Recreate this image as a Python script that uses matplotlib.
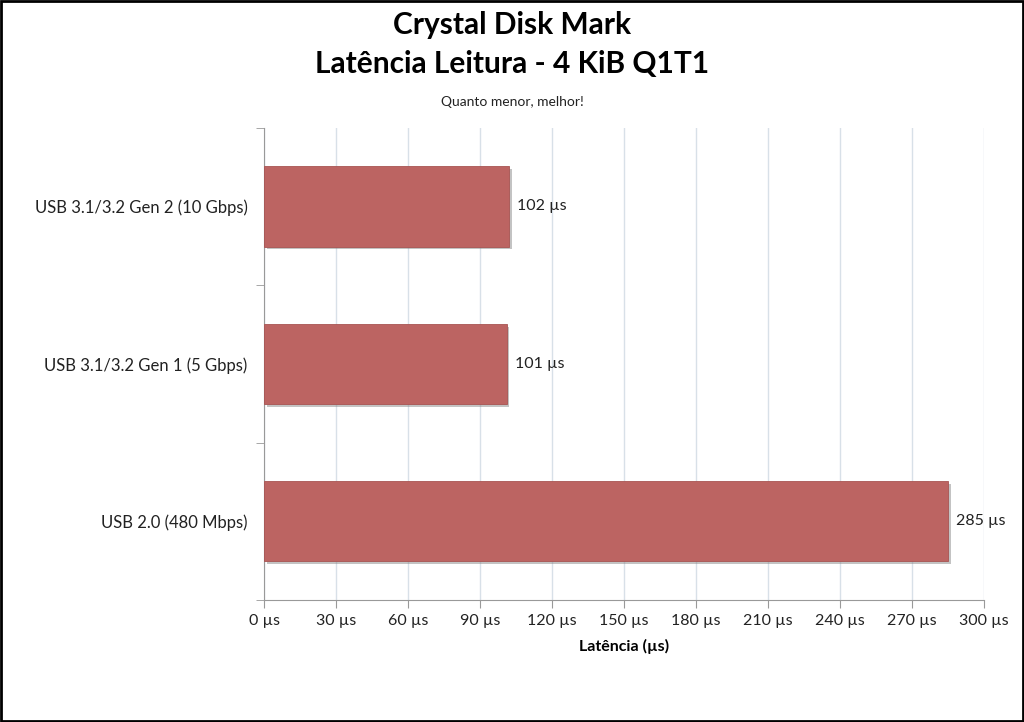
import matplotlib.pyplot as plt
import matplotlib.patheffects as pe
import numpy as np

plt.rcParams['font.family'] = ['Lato', 'DejaVu Sans']

categories = ['USB 3.1/3.2 Gen 2 (10 Gbps)', 'USB 3.1/3.2 Gen 1 (5 Gbps)', 'USB 2.0 (480 Mbps)']
latency = [102, 101, 285]
xticks = np.arange(0, 301, 30)

fig = plt.figure(figsize=(10.24, 7.22), dpi=100)
ax = fig.add_axes([0.258, 0.169, 0.703, 0.654])

y = np.arange(len(categories))
bars = ax.barh(y, latency, height=0.51, color='#BC6462', edgecolor='#A85452', linewidth=0.6, zorder=3)
for b in bars:
    b.set_path_effects([pe.SimplePatchShadow(offset=(2, -2), shadow_rgbFace='#888888', alpha=0.5), pe.Normal()])

for yi, v in zip(y, latency):
    ax.text(v + 3.5, yi, f'{v} µs', va='center', ha='left', fontsize=11.5, color='#222222')

ax.set_ylim(len(categories) - 0.5, -0.5)
ax.set_xlim(0, 300)
ax.set_xticks(xticks)
ax.set_xticklabels([f'{t} µs' for t in xticks], fontsize=11.5, color='#222222')
ax.set_yticks(y)
ax.set_yticklabels(categories, fontsize=12, color='#222222')
ax.tick_params(axis='y', length=0, pad=12)
ax.set_yticks(np.arange(-0.5, len(categories)), minor=True)
ax.tick_params(axis='y', which='minor', length=6, color='#999999')
ax.tick_params(axis='x', length=6, color='#999999', pad=4)

ax.grid(axis='x', color='#D8E0E8', linewidth=1, zorder=0)
ax.set_axisbelow(True)
for s in ['top', 'right']:
    ax.spines[s].set_visible(False)
ax.spines['left'].set_color('#999999')
ax.spines['bottom'].set_color('#999999')

ax.set_xlabel('Latência (µs)', fontsize=11.5, fontweight='bold', labelpad=8)

fig.text(0.5, 0.965, 'Crystal Disk Mark', ha='center', va='center', fontsize=21.5, fontweight='bold')
fig.text(0.5, 0.912, 'Latência Leitura - 4 KiB Q1T1', ha='center', va='center', fontsize=21.5, fontweight='bold')
fig.text(0.5, 0.859, 'Quanto menor, melhor!', ha='center', va='center', fontsize=10, color='#222222')

fig.patches.append(plt.Rectangle((0.001, 0.001), 0.998, 0.998, transform=fig.transFigure,
                                 fill=False, edgecolor='black', linewidth=2))

fig.savefig('out.png', dpi=100)
